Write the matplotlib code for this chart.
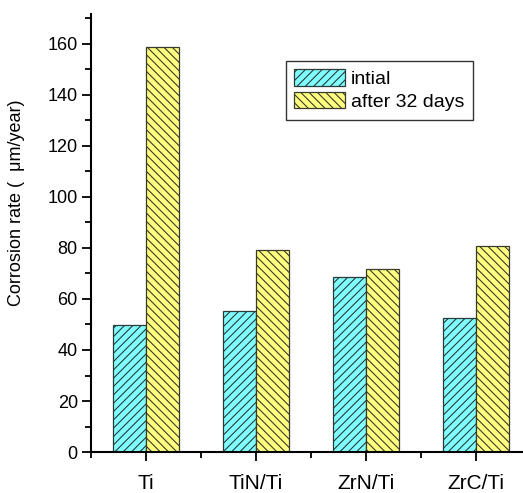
import numpy as np
import matplotlib
matplotlib.use('Agg')
import matplotlib.pyplot as plt
from matplotlib.ticker import MultipleLocator

plt.rcParams['font.family'] = ['Liberation Sans', 'DejaVu Sans']
plt.rcParams['hatch.linewidth'] = 0.8

categories = ['Ti', 'TiN/Ti', 'ZrN/Ti', 'ZrC/Ti']
initial = [49.8, 55.3, 68.7, 52.6]
after_32_days = [158.6, 79.3, 71.8, 80.7]

fig = plt.figure(figsize=(5.23, 4.93), dpi=100)
ax = fig.add_axes([0.174, 0.083, 0.841, 0.888])

x = np.arange(len(categories))
bar_width = 0.3

ax.bar(x - bar_width / 2, initial, width=bar_width, color='#80ffff',
       edgecolor='#2a3a3a', linewidth=0.9, hatch='////', label='intial')
ax.bar(x + bar_width / 2, after_32_days, width=bar_width, color='#ffff80',
       edgecolor='#3a3a2a', linewidth=0.9, hatch='\\\\\\\\', label='after 32 days')

ax.set_xlim(-0.5, 3.5)
ax.set_ylim(0, 171.5)

ax.spines['top'].set_visible(False)
ax.spines['right'].set_visible(False)
ax.spines['left'].set_linewidth(1.5)
ax.spines['bottom'].set_linewidth(1.5)

ax.set_xticks(x)
ax.set_xticklabels(categories, fontsize=15)
ax.xaxis.set_minor_locator(MultipleLocator(1, offset=0.5))
ax.yaxis.set_major_locator(MultipleLocator(20))
ax.yaxis.set_minor_locator(MultipleLocator(10))
ax.tick_params(axis='both', which='major', length=6.5, width=1.3, direction='out')
ax.tick_params(axis='both', which='minor', length=4, width=1.3, direction='out')
ax.tick_params(axis='y', labelsize=13, pad=3)
ax.tick_params(axis='x', pad=9)

ax.set_ylabel('Corrosion rate (  \u03bcm/year)', fontsize=13)
ax.yaxis.set_label_coords(-0.15, 0.57)

leg = ax.legend(loc='upper left', bbox_to_anchor=(285.7 / 523, 1 - 60.7 / 493),
                bbox_transform=fig.transFigure, fontsize=14, frameon=True,
                fancybox=False, borderaxespad=0, handlelength=2.6, handleheight=0.9,
                handletextpad=0.3, labelspacing=0.2, borderpad=0.45)
leg.get_frame().set_edgecolor('black')
leg.get_frame().set_linewidth(1.0)

fig.savefig('out.png', dpi=100)
